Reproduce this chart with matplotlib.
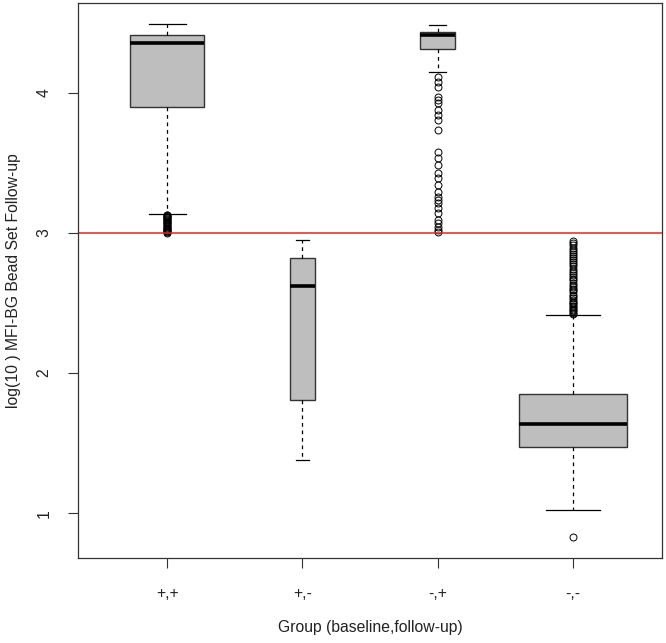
import matplotlib
matplotlib.use("Agg")
import matplotlib.pyplot as plt

plt.rcParams['font.family'] = ['Liberation Sans', 'DejaVu Sans']

groups = ["+,+", "+,-", "-,+", "-,-"]
# five-number summaries
whislo = [3.136, 1.38, 4.15, 1.021]
q1 = [3.90, 1.81, 4.31, 1.474]
med = [4.357, 2.62, 4.41, 1.636]
q3 = [4.414, 2.82, 4.43, 1.85]
whishi = [4.493, 2.95, 4.48, 2.414]
box_w = [0.55, 0.19, 0.26, 0.80]

out_pp = [3.00, 3.005, 3.01, 3.015, 3.02, 3.025, 3.03, 3.035, 3.04, 3.05,
          3.055, 3.06, 3.07, 3.075, 3.08, 3.09, 3.095, 3.10, 3.105, 3.11,
          3.115, 3.12, 3.125, 3.13]
out_pm = []
out_mp = [4.114, 4.079, 4.043, 3.97, 3.95, 3.929, 3.879, 3.843, 3.807, 3.736,
          3.579, 3.536, 3.486, 3.429, 3.393, 3.343, 3.293, 3.257, 3.236, 3.214,
          3.179, 3.143, 3.093, 3.071, 3.043, 3.021, 3.003]
out_mm = [0.831, 2.42, 2.43, 2.44, 2.45, 2.46, 2.47, 2.48, 2.49, 2.50, 2.51,
          2.52, 2.535, 2.55, 2.56, 2.575, 2.59, 2.60, 2.615, 2.63, 2.645,
          2.66, 2.67, 2.685, 2.70, 2.715, 2.73, 2.745, 2.76, 2.775, 2.79,
          2.805, 2.82, 2.835, 2.85, 2.865, 2.88, 2.895, 2.91, 2.925, 2.94]
outliers = [out_pp, out_pm, out_mp, out_mm]

cutoff = 3.0

stats = []
for i in range(len(groups)):
    stats.append(dict(label=groups[i], whislo=whislo[i], q1=q1[i], med=med[i],
                      q3=q3[i], whishi=whishi[i], fliers=outliers[i]))

fig = plt.figure(figsize=(6.66, 6.43), dpi=100)
ax = fig.add_axes([78/666, 1 - 558/643, (662-78)/666, (558-3)/643])

ax.bxp(stats, positions=[1, 2, 3, 4], widths=box_w,
       capwidths=[w/2 for w in box_w], patch_artist=True,
       boxprops=dict(facecolor="#bebebe", edgecolor="#333333", linewidth=1.0),
       medianprops=dict(color="black", linewidth=2.6, solid_capstyle="butt"),
       whiskerprops=dict(color="black", linestyle=(0, (3, 3)), linewidth=0.9),
       capprops=dict(color="black", linewidth=0.9),
       flierprops=dict(marker="o", markerfacecolor="none", markeredgecolor="black",
                       markersize=5, markeredgewidth=0.7))

ax.axhline(cutoff, color="#e0262b", linewidth=1.1)

txt = "#222222"
ax.set_xlim(0.34, 4.66)
ax.set_ylim(0.68, 4.64)
ax.set_yticks([1, 2, 3, 4])
ax.set_yticklabels(["1", "2", "3", "4"], rotation=90, va="center")
ax.set_xticks([1, 2, 3, 4])
ax.set_xticklabels(groups)
ax.tick_params(direction="out", length=7, width=0.8, labelsize=11.3,
               labelcolor=txt, color="#333333")
ax.tick_params(axis="y", pad=12)
ax.tick_params(axis="x", pad=13)
for s in ax.spines.values():
    s.set_linewidth(0.9)
    s.set_color("#333333")
ax.set_xlabel("Group (baseline,follow-up)", fontsize=11.3, labelpad=14, color=txt)
ax.set_ylabel("log(10 ) MFI-BG Bead Set Follow-up", fontsize=11.3, labelpad=11,
              color=txt)

fig.savefig("out.png", dpi=100)
